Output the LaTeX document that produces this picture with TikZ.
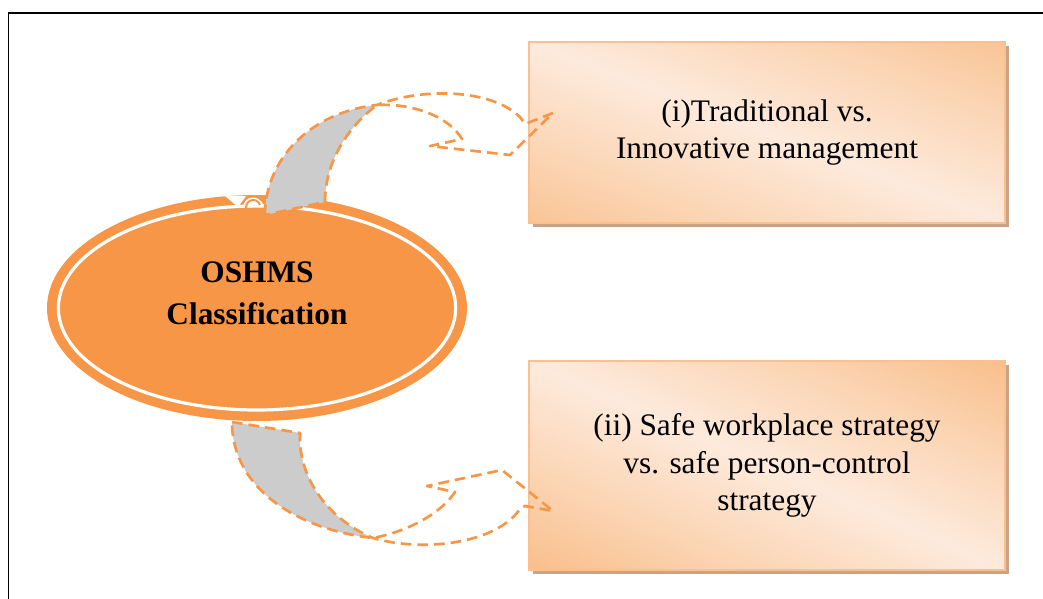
\documentclass[tikz,border=0pt]{standalone}
\usepackage{fontspec}
\setmainfont{Liberation Serif}
\usetikzlibrary{shapes.geometric,shadows}
\definecolor{orng}{HTML}{F79646}
\definecolor{peachdark}{HTML}{F9BF8C}
\definecolor{peachmid}{HTML}{FBD5B4}
\definecolor{peachlight}{HTML}{FDEADC}
\definecolor{peachline}{HTML}{FAC08F}
\definecolor{shadowtan}{HTML}{CBA283}
\definecolor{arrowgray}{HTML}{CCCCCC}
\pgfdeclareverticalshading{peachdiag}{100bp}{color(0bp)=(peachdark); color(31bp)=(peachdark); color(40bp)=(peachmid); color(50bp)=(peachlight); color(60bp)=(peachmid); color(69bp)=(peachdark); color(100bp)=(peachdark)}
\tikzset{
  catbox/.style={rectangle, draw=peachline, line width=1.5pt,
    path picture={\shade[shading=peachdiag, shading angle=#1]
      ([shift={(-250,-250)}]path picture bounding box.center) rectangle ++(500,500);},
    general shadow={fill=shadowtan, shadow xshift=3pt, shadow yshift=-3pt},
    minimum width=357pt, align=center, inner sep=0pt,
    font=\fontsize{23.5pt}{28pt}\selectfont},
  catbox/.default=-20.7,
  dasharrow/.style={draw=orng, line width=2pt, dash pattern=on 8pt off 4.5pt, line join=round},
  grayband/.style={fill=arrowgray},
  frameline/.style={line width=1.2pt, black}
}
\begin{document}
\begin{tikzpicture}[x=0.75pt,y=-0.75pt]
\useasboundingbox (0,0) rectangle (1043,599);
\fill[white] (0,0) rectangle (1043,599);
% frame
\coordinate (fbl) at (8.5,600);
\coordinate (ftl) at (8.5,13);
\coordinate (ftr) at (1044,13);
\draw[frameline] (fbl) -- (ftl) -- (ftr);

% boxes
\node[catbox=-20.7, minimum height=135.75pt] (b1) at (767,132.5) {(i)Traditional vs.\\Innovative management};
\node[catbox=-23.6, minimum height=156.75pt] (b2) at (767,465.5) {(ii) Safe workplace strategy\\vs. safe person-control\\strategy};

% ellipse
\node[ellipse, fill=orng, minimum width=315pt, minimum height=169.5pt, inner sep=0pt] (oshms) at (257,308) {};
\draw[white, line width=2.4pt] (oshms.center) ellipse [x radius=149pt, y radius=76.5pt];
\node[align=center, font=\fontsize{23.5pt}{31.5pt}\selectfont\bfseries] (oshmstext) at (257,293) {OSHMS\\Classification};

% small artifact at top of ellipse
\fill[white] (225,196) -- (246,196) -- (238,207) -- cycle;
\fill[white] (243,208) .. controls (243,196) and (259,193) .. (264,206) -- cycle;
\draw[orng, line width=1.5pt] (246,208) .. controls (246,199) and (257,197) .. (260,205);

% top curved arrow
\fill[grayband] (265,215) .. controls (265,160) and (310,112) .. (377,105)
  .. controls (350,125) and (325,160) .. (325,202) -- cycle;
\draw[dasharrow] (265,215) .. controls (265,160) and (310,112) .. (377,105)
  .. controls (420,88) and (490,88) .. (520,117)
  -- (525,124) -- (553,113) -- (510,155) -- (430,146) -- (462,139)
  .. controls (450,118) and (415,103) .. (377,105)
  .. controls (350,125) and (325,160) .. (325,202) -- cycle;

% bottom curved arrow
\fill[grayband] (232,422) -- (300,433) .. controls (298,480) and (330,520) .. (373,538)
  .. controls (300,530) and (232,490) .. (232,422) -- cycle;
\draw[dasharrow] (232,422) -- (300,433) .. controls (298,480) and (330,520) .. (373,538)
  .. controls (420,552) and (495,545) .. (520,509)
  -- (525,506) -- (553,511) -- (502,470) -- (427,486) -- (455,492)
  .. controls (440,515) and (405,532) .. (373,538)
  .. controls (300,530) and (232,490) .. (232,422) -- cycle;
\end{tikzpicture}
\end{document}
